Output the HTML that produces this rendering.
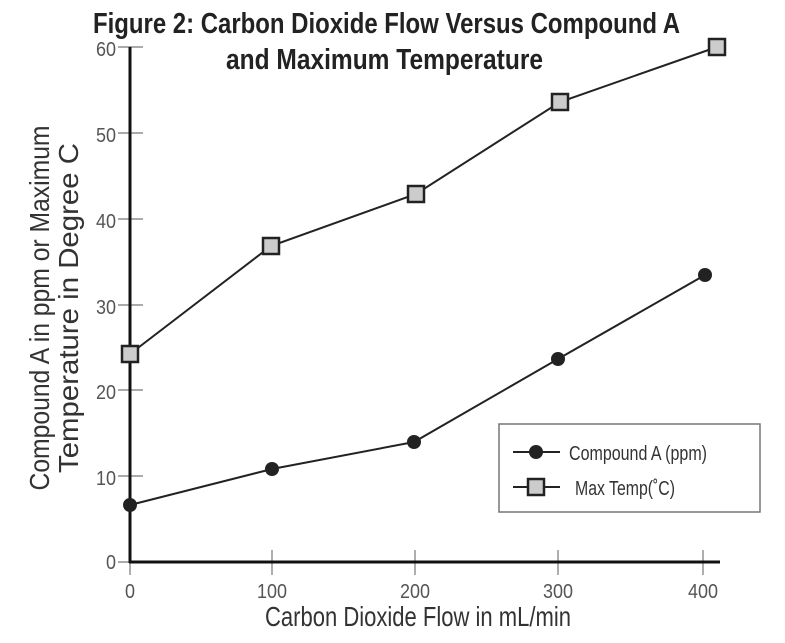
<!DOCTYPE html>
<html><head><style>body{margin:0;background:#fff}svg{display:block}</style></head>
<body>
<svg width="785" height="643" viewBox="0 0 785 643" xmlns="http://www.w3.org/2000/svg" font-family="Liberation Sans, sans-serif">
<rect width="785" height="643" fill="#fff"/>
<g font-weight="bold" font-size="29" fill="#222">
<text x="93" y="33" textLength="587" lengthAdjust="spacingAndGlyphs">Figure 2: Carbon Dioxide Flow Versus Compound A</text>
<text x="226" y="69" textLength="317" lengthAdjust="spacingAndGlyphs">and Maximum Temperature</text>
</g>
<g stroke="#777" stroke-width="1.2">
<line x1="118" y1="47" x2="143" y2="47"/>
<line x1="118" y1="133" x2="143" y2="133"/>
<line x1="118" y1="219" x2="143" y2="219"/>
<line x1="118" y1="305" x2="143" y2="305"/>
<line x1="118" y1="390" x2="143" y2="390"/>
<line x1="118" y1="476" x2="143" y2="476"/>
<line x1="118" y1="562" x2="143" y2="562"/>
<line x1="130" y1="550" x2="130" y2="575"/>
<line x1="272" y1="550" x2="272" y2="575"/>
<line x1="415" y1="550" x2="415" y2="575"/>
<line x1="558" y1="550" x2="558" y2="575"/>
<line x1="703" y1="550" x2="703" y2="575"/>
</g>
<g stroke="#111" stroke-width="3"><line x1="130" y1="47" x2="130" y2="563"/><line x1="129" y1="562" x2="720" y2="562"/></g>
<g font-size="20" fill="#555" text-anchor="end">
<text x="116" y="56" textLength="20" lengthAdjust="spacingAndGlyphs">60</text><text x="116" y="142" textLength="20" lengthAdjust="spacingAndGlyphs">50</text><text x="116" y="228" textLength="20" lengthAdjust="spacingAndGlyphs">40</text><text x="116" y="314" textLength="20" lengthAdjust="spacingAndGlyphs">30</text><text x="116" y="399" textLength="20" lengthAdjust="spacingAndGlyphs">20</text><text x="116" y="485" textLength="20" lengthAdjust="spacingAndGlyphs">10</text><text x="116" y="569" textLength="10" lengthAdjust="spacingAndGlyphs">0</text>
</g>
<g font-size="20" fill="#555" text-anchor="middle">
<text x="130" y="598" textLength="10" lengthAdjust="spacingAndGlyphs">0</text><text x="272" y="598" textLength="30" lengthAdjust="spacingAndGlyphs">100</text><text x="415" y="598" textLength="30" lengthAdjust="spacingAndGlyphs">200</text><text x="558" y="598" textLength="30" lengthAdjust="spacingAndGlyphs">300</text><text x="703" y="598" textLength="30" lengthAdjust="spacingAndGlyphs">400</text>
</g>
<text x="418" y="626" font-size="28" fill="#333" text-anchor="middle" textLength="306" lengthAdjust="spacingAndGlyphs">Carbon Dioxide Flow in mL/min</text>
<g transform="rotate(-90)" font-size="28" fill="#333" text-anchor="middle">
<text x="-308" y="49" textLength="365" lengthAdjust="spacingAndGlyphs">Compound A in ppm or Maximum</text>
<text x="-308" y="78" textLength="330" lengthAdjust="spacingAndGlyphs">Temperature in Degree C</text>
</g>
<polyline points="130,505 272,469 414,442 558,359 705,275" fill="none" stroke="#222" stroke-width="2"/>
<g fill="#222"><circle cx="130" cy="505" r="7"/><circle cx="272" cy="469" r="7"/><circle cx="414" cy="442" r="7"/><circle cx="558" cy="359" r="7"/><circle cx="705" cy="275" r="7"/></g>
<polyline points="130,354 271,246 416,194 560,102 717,47" fill="none" stroke="#222" stroke-width="2"/>
<g fill="#ccc" stroke="#222" stroke-width="2.5">
<rect x="122" y="346" width="16" height="16"/><rect x="263" y="238" width="16" height="16"/><rect x="408" y="186" width="16" height="16"/><rect x="552" y="94" width="16" height="16"/><rect x="709" y="39" width="16" height="16"/>
</g>
<rect x="499" y="424" width="261" height="88" fill="#fff" stroke="#777" stroke-width="1.5"/>
<line x1="513" y1="452" x2="560" y2="452" stroke="#222" stroke-width="2"/>
<circle cx="536" cy="452" r="7" fill="#222"/>
<line x1="513" y1="487" x2="560" y2="487" stroke="#222" stroke-width="2"/>
<rect x="528" y="479" width="16" height="16" fill="#ccc" stroke="#222" stroke-width="2.5"/>
<text x="569" y="460" font-size="20" fill="#333" textLength="138" lengthAdjust="spacingAndGlyphs">Compound A (ppm)</text>
<text x="575" y="495" font-size="20" fill="#333" textLength="100" lengthAdjust="spacingAndGlyphs">Max Temp(˚C)</text>
</svg>
</body></html>
